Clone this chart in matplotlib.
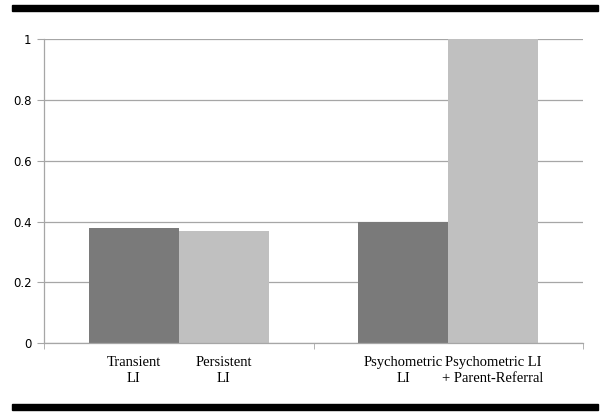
import numpy as np
import matplotlib.pyplot as plt
from matplotlib.patches import Rectangle

groups = [0, 1]
dark_values = [0.38, 0.40]
light_values = [0.37, 1.0]
dark_labels = ["Transient\nLI", "Psychometric\nLI"]
light_labels = ["Persistent\nLI", "Psychometric LI\n+ Parent-Referral"]
yticks = [0, 0.2, 0.4, 0.6, 0.8, 1]
ytick_labels = ["0", "0.2", "0.4", "0.6", "0.8", "1"]

fig = plt.figure(figsize=(6, 4.15), dpi=100)
ax = fig.add_axes([44 / 600, 72 / 415, 539 / 600, 303.5 / 415])

x = np.array(groups)
w = 1 / 3
ax.bar(x - w / 2, dark_values, width=w, color="#7a7a7a", zorder=2)
ax.bar(x + w / 2, light_values, width=w, color="#c0c0c0", zorder=2)

ax.set_xlim(-0.5, 1.5)
ax.set_ylim(0, 1)
ax.set_yticks(yticks)
ax.set_yticklabels(ytick_labels, fontsize=8.5, family="DejaVu Sans")
ax.yaxis.grid(True, color="#a6a6a6", linewidth=0.9, zorder=0)
ax.tick_params(axis="y", length=5, color="#a6a6a6", pad=4)

centers = np.concatenate([x - w / 2, x + w / 2])
ax.set_xticks(centers)
ax.set_xticklabels(dark_labels + light_labels, family="Liberation Serif",
                   fontsize=10.5, linespacing=1.3)
ax.tick_params(axis="x", which="major", length=0, pad=9)
ax.set_xticks([-0.5, 0.5, 1.5], minor=True)
ax.tick_params(axis="x", which="minor", length=4, color="#a6a6a6")

for s in ["top", "right"]:
    ax.spines[s].set_visible(False)
for s in ["left", "bottom"]:
    ax.spines[s].set_color("#a6a6a6")
    ax.spines[s].set_linewidth(0.9)

# black rules above and below the chart
fig.add_artist(Rectangle((12 / 600, 1 - 11 / 415), 586 / 600, 6 / 415,
                         transform=fig.transFigure, color="black"))
fig.add_artist(Rectangle((12 / 600, 1 - 410 / 415), 586 / 600, 6 / 415,
                         transform=fig.transFigure, color="black"))

fig.savefig("out.png", dpi=100)
